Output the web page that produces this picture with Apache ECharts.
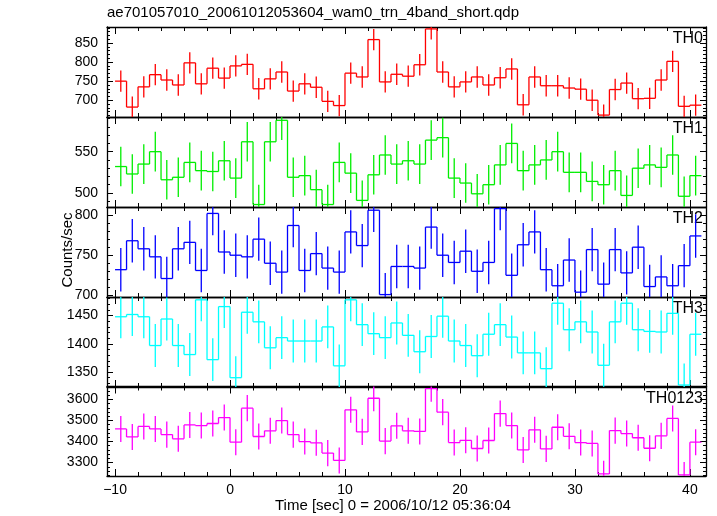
<!DOCTYPE html>
<html><head><meta charset="utf-8">
<script src="https://cdn.jsdelivr.net/npm/echarts@6/dist/echarts.min.js"></script>
<style>html,body{margin:0;padding:0;background:#fff}#c{width:717px;height:516px}</style>
</head><body><div id="c"></div>
<script>
const titleText = 'ae701057010_20061012053604_wam0_trn_4band_short.qdp';
const xTitle = 'Time [sec] 0 = 2006/10/12 05:36:04';
const yTitle = 'Counts/sec';
const binWidth = 1;
const binStart = [-10,-9,-8,-7,-6,-5,-4,-3,-2,-1,0,1,2,3,4,5,6,7,8,9,10,11,12,13,14,15,16,17,18,19,20,21,22,23,24,25,26,27,28,29,30,31,32,33,34,35,36,37,38,39,40];
const th0 = [750,682,735,767,753,740,798,743,784,758, 790,794,730,756,774,724,743,734,697,686, 771,761,859,748,768,763, 793,887,774,735,748,761,740,759,782,688, 761,738,738,732,729,700,661,728,745,704, 705,753,802,684,687];
const th1 = [532,523,535,550,516,519,537,527,526,539, 518,562,486,562,588,519,521,504,486,537, 524,491,522,546,535,539, 535,564,567,518,512,499,510,534,560,527, 534,540,550,525,525,514,510,527,497,530, 534,531,546,496,521];
const th2 = [732,768,758,748,721,758,766,731,802,754, 750,748,770,740,729,787,731,752,734,729, 779,762,806,701,736,736, 734,785,750,741,755,730,741,808,725,763, 779,732,712,744,704,757,714,757,728,760, 711,723,712,737,774];
const th3 = [1448,1452,1448,1397,1444,1397,1381,1478,1372,1466, 1340,1456,1439,1393,1411,1405,1405,1405,1430,1361, 1478,1434,1418,1411,1437,1415, 1386,1413,1449,1405,1397,1379,1417,1434,1412,1384, 1384,1356,1472,1425,1439,1421,1362,1439,1472,1425, 1422,1421,1454,1327,1417];
const th0123 = [3460,3422,3472,3460,3433,3413,3479,3476,3486,3514, 3397,3559,3424,3451,3500,3433,3400,3394,3345,3310, 3551,3446,3606,3402,3475,3451, 3448,3652,3540,3395,3406,3367,3405,3533,3476,3360, 3456,3365,3468,3425,3395,3391,3246,3452,3438,3418, 3368,3427,3510,3241,3397];
const errors = [28, 24, 27, 38, 62];
const panelNames = ['TH0','TH1','TH2','TH3','TH0123'];
const panelValues = [th0, th1, th2, th3, th0123];
const panelColors = ['#ff0000','#00ee00','#0000ff','#00ffff','#ff00ff'];
const yRanges = [[656,892],[483,592],[698,810],[1323.5,1483],[3236,3662]];
const yTickStep = [50,50,50,50,100];
const xRange = [-10.7, 41.4];
const xTickStep = 10;

const FONT = 'Liberation Sans, Arial, Helvetica, sans-serif';
const panelTops = [27, 117, 207, 297, 386.5];
const panelH = 90;
const chart = echarts.init(document.getElementById('c'), null, {renderer:'canvas'});

const grids = [], xAxes = [], yAxes = [], series = [], graphics = [];
function isMult(v, s){ return Math.abs(v/s - Math.round(v/s)) < 1e-6; }

panelNames.forEach((name, k) => {
  grids.push({left:107, right:11, top:panelTops[k], height:(k===4?89.5:panelH), containLabel:false});
  const tickLine = {color:'#000', width:1};
  const baseX = {
    type:'value', gridIndex:k, min:xRange[0], max:xRange[1],
    minInterval:xTickStep, maxInterval:xTickStep,
    axisLine:{show:true, onZero:false, lineStyle:{color:'#000', width:1.3}},
    axisTick:{show:true, inside:true, length:7, lineStyle:tickLine},
    minorTick:{show:true, splitNumber:5, length:4, lineStyle:{color:'#000', width:1}},
    splitLine:{show:false},
  };
  xAxes.push(Object.assign({}, baseX, {position:'bottom',
    axisLabel:{show:k===4, fontFamily:FONT, fontSize:14, color:'#000', margin:7,
      formatter:v => isMult(v, xTickStep) ? String(Math.round(v)).replace('-', '\u2212') : ''}}));
  xAxes.push(Object.assign({}, baseX, {position:'top', axisLabel:{show:false}}));
  const [ymin, ymax] = yRanges[k];
  const baseY = {
    type:'value', gridIndex:k, min:ymin, max:ymax,
    minInterval:yTickStep[k], maxInterval:yTickStep[k],
    axisLine:{show:true, onZero:false, lineStyle:{color:'#000', width:1.3}},
    axisTick:{show:true, inside:true, length:6, lineStyle:tickLine},
    minorTick:{show:true, splitNumber:5, length:3, lineStyle:{color:'#000', width:1}},
    splitLine:{show:false},
  };
  yAxes.push(Object.assign({}, baseY, {position:'left',
    axisLabel:{show:true, fontFamily:FONT, fontSize:14, color:'#000', margin:9,
      formatter:v => isMult(v, yTickStep[k]) ? String(Math.round(v)) : ''}}));
  yAxes.push(Object.assign({}, baseY, {position:'right', axisLabel:{show:false}}));

  const vals = panelValues[k];
  const err = errors[k];
  const color = panelColors[k];
  const data = vals.map((v, i) => [binStart[i], v, i > 0 ? vals[i-1] : v]);
  series.push({
    type:'custom', xAxisIndex:2*k, yAxisIndex:2*k, clip:true, data,
    encode:{x:0, y:1},
    renderItem(params, api){
      const t = api.value(0), v = api.value(1), p = api.value(2);
      const a = api.coord([t, v]), b = api.coord([t + binWidth, v]);
      const c = api.coord([t, p]);
      const e1 = api.coord([t + binWidth/2, v - err]), e2 = api.coord([t + binWidth/2, v + err]);
      const style = {stroke:color, lineWidth:1.3};
      return {type:'group', children:[
        {type:'line', shape:{x1:a[0], y1:a[1], x2:b[0], y2:b[1]}, style},
        {type:'line', shape:{x1:c[0], y1:c[1], x2:a[0], y2:a[1]}, style},
        {type:'line', shape:{x1:e1[0], y1:e1[1], x2:e2[0], y2:e2[1]}, style}
      ]};
    }
  });
  graphics.push({type:'text', right:14, top:panelTops[k] + 4,
    style:{text:name, font:'16px ' + FONT, fill:'#000'}});
});

graphics.push({type:'text', left:107, top:5, style:{text:titleText, font:'15px ' + FONT, fill:'#000'}});
graphics.push({type:'text', left:275, top:498, style:{text:xTitle, font:'15px ' + FONT, fill:'#000'}});
graphics.push({type:'text', x:68, y:250, rotation:Math.PI/2,
  style:{text:yTitle, font:'15px ' + FONT, fill:'#000', textAlign:'center', textVerticalAlign:'middle'}});

chart.setOption({
  animation:false,
  backgroundColor:'#fff',
  grid:grids, xAxis:xAxes, yAxis:yAxes, series, graphic:graphics
});
</script>
</body></html>
